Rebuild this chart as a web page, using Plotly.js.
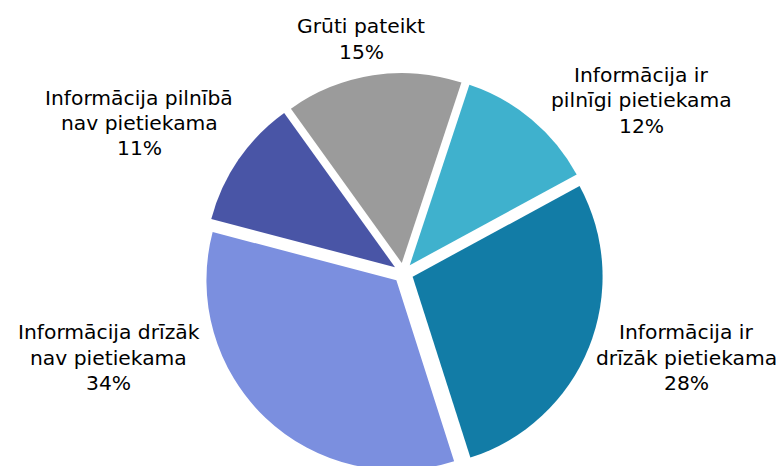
<!DOCTYPE html>
<html>
<head>
<meta charset="utf-8">
<script src="https://cdn.plot.ly/plotly-3.0.1.min.js"></script>
<style>
  html, body { margin: 0; padding: 0; overflow: hidden; background: #fff; }
  #chart { width: 783px; height: 480px; }
</style>
</head>
<body>
<div id="chart"></div>
<script>
// ── Data ──────────────────────────────────────────────────────────────────────
const labels = [
  'Informācija ir pilnīgi pietiekama',
  'Informācija ir drīzāk pietiekama',
  'Informācija drīzāk nav pietiekama',
  'Informācija pilnībā nav pietiekama',
  'Grūti pateikt',
];
const values = [12, 28, 34, 11, 15];
// label lines as they wrap in the picture
const labelLines = [
  ['Informācija ir', 'pilnīgi pietiekama'],
  ['Informācija ir', 'drīzāk pietiekama'],
  ['Informācija drīzāk', 'nav pietiekama'],
  ['Informācija pilnībā', 'nav pietiekama'],
  ['Grūti pateikt'],
];
const colors = ['#3fb1cd', '#127ca6', '#7b8fdf', '#4955a6', '#9b9b9b'];

// ── Layout helpers ────────────────────────────────────────────────────────────
const W = 783, H = 480;
const LINE = 25.3;
// centre of each label block (px)
const labelPos = [[641, 100.5], [686, 357.5], [109, 357.5], [139, 123], [361, 39]];
const FONT = { family: 'DejaVu Sans, Verdana, sans-serif', size: 20.3, color: '#000' };

const annotations = [];
labels.forEach((lab, i) => {
  const lines = [...labelLines[i], values[i] + '%'];
  const [cx, cy] = labelPos[i];
  lines.forEach((txt, j) => {
    const y = cy + (j - (lines.length - 1) / 2) * LINE;
    annotations.push({
      text: txt, x: cx / W, y: 1 - y / H,
      xref: 'paper', yref: 'paper', xanchor: 'center', yanchor: 'middle',
      showarrow: false, font: FONT,
    });
  });
});

Plotly.newPlot('chart', [{
  type: 'pie',
  labels: labels,
  values: values,
  sort: false,
  direction: 'clockwise',
  rotation: 18.3,
  pull: 0.053,
  textinfo: 'none',
  hoverinfo: 'label+percent',
  marker: { colors: colors, line: { width: 0 } },
  domain: { x: [203.3 / W, 603.3 / W], y: [1 - 472.9 / H, 1 - 72.9 / H] },
}], {
  width: W, height: H,
  margin: { t: 0, b: 0, l: 0, r: 0 },
  showlegend: false,
  paper_bgcolor: '#fff',
  annotations: annotations,
}, { displayModeBar: false });
</script>
</body>
</html>
